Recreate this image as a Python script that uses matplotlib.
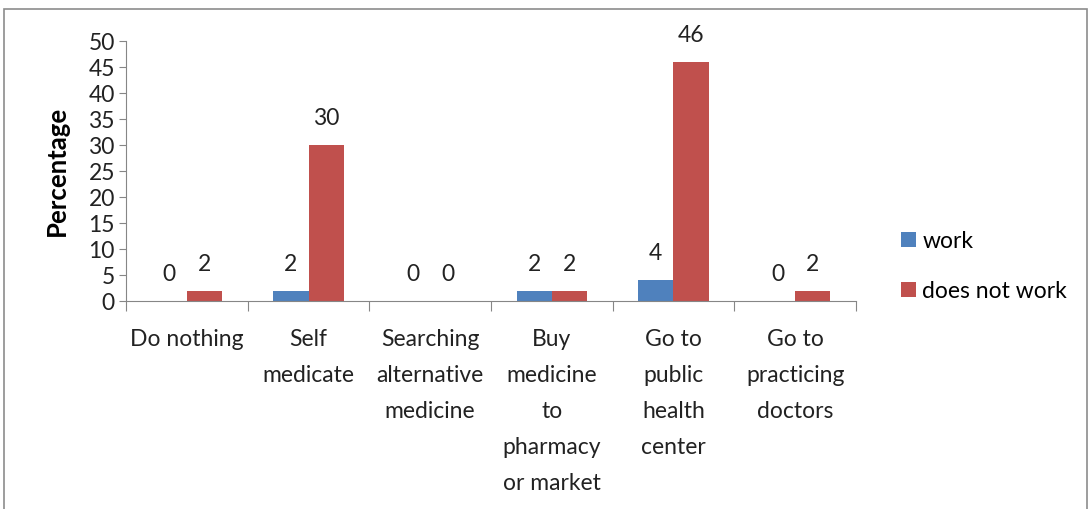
import numpy as np
import matplotlib.pyplot as plt
from matplotlib.patches import Rectangle

categories = ["Do nothing", "Self\nmedicate", "Searching\nalternative\nmedicine",
              "Buy\nmedicine\nto\npharmacy\nor market", "Go to\npublic\nhealth\ncenter",
              "Go to\npracticing\ndoctors"]
work = [0, 2, 0, 2, 4, 0]
does_not_work = [2, 30, 0, 2, 46, 2]
series_names = ["work", "does not work"]

plt.rcParams['font.family'] = ['Lato', 'DejaVu Sans']

W, H = 1091, 509
fig = plt.figure(figsize=(W / 100, H / 100), dpi=100)
ax = fig.add_axes([126 / W, 1 - 301 / H, 730 / W, 260 / H])

x = np.arange(len(categories))
bw = 0.29
b1 = ax.bar(x - bw / 2, work, bw, color="#4F81BD", label=series_names[0])
b2 = ax.bar(x + bw / 2, does_not_work, bw, color="#C0504D", label=series_names[1])

for bars, vals in ((b1, work), (b2, does_not_work)):
    for rect, v in zip(bars, vals):
        ax.annotate(str(v), (rect.get_x() + rect.get_width() / 2, v),
                    xytext=(0, 19), textcoords="offset points",
                    ha="center", va="center", fontsize=16.5, color="#222222")

ax.set_xlim(-0.5, len(categories) - 0.5)
ax.set_ylim(0, 50)
ax.set_yticks(range(0, 51, 5))
ax.set_xticks(np.arange(len(categories) + 1) - 0.5)
ax.set_xticklabels([])
ax.set_xticks(x, minor=True)
ax.set_xticklabels(categories, minor=True, fontsize=16.5, linespacing=1.88,
                   va="top", color="#222222")
ax.tick_params(axis="x", which="minor", length=0, pad=20)
ax.tick_params(axis="x", which="major", length=7, color="#868686")
ax.tick_params(axis="y", length=5, color="#868686", labelsize=16.5, labelcolor="#222222", pad=3)
for s in ("top", "right"):
    ax.spines[s].set_visible(False)
for s in ("left", "bottom"):
    ax.spines[s].set_color("#868686")
ax.set_ylabel("Percentage", fontsize=18.5, fontweight="bold", labelpad=14)

fig.legend(handles=[b1, b2], loc="upper left", bbox_to_anchor=(880 / W, 1 - 210 / H),
           frameon=False, fontsize=16.5, handlelength=0.65, handleheight=0.65,
           handletextpad=0.3, labelspacing=1.27)

fig.patches.append(Rectangle((4 / W, -0.05), 1083 / W, 1.05 - 9 / H,
                             transform=fig.transFigure, fill=False,
                             edgecolor="#8c8c8c", linewidth=1.2))

fig.savefig("out.png", dpi=100)
